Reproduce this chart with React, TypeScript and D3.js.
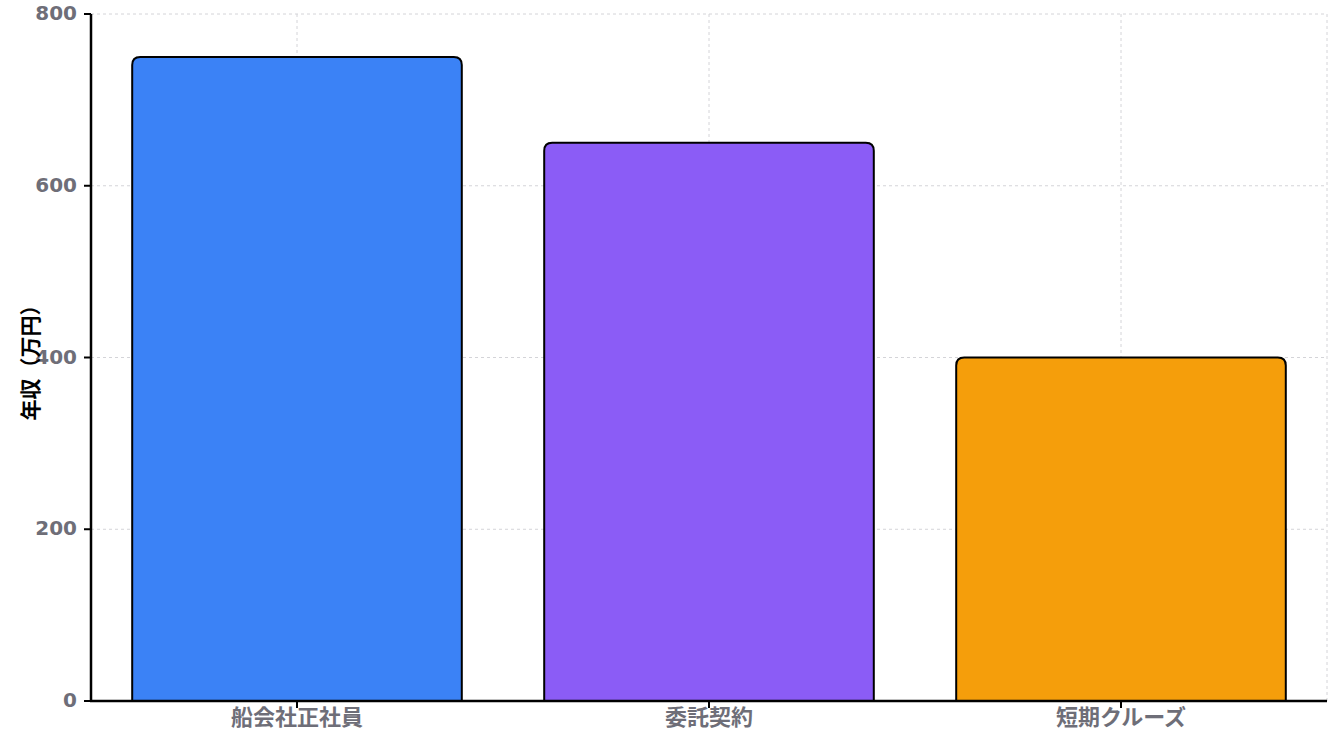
import React from "react";
import * as d3 from "d3";

const categories = ["船会社正社員", "委託契約", "短期クルーズ"];
const values = [750, 650, 400];
const colors = ["#3b82f6", "#8b5cf6", "#f59e0b"];
const yTicks = [0, 200, 400, 600, 800];
const yLabel = "年収（万円）";

const W = 1344;
const H = 733;
const left = 91;
const right = 1327;
const top = 14;
const bottom = 701;

function topRoundedRect(x: number, y: number, w: number, h: number, r: number) {
  const rr = Math.min(r, w / 2, h);
  return `M${x},${y + h}L${x},${y + rr}Q${x},${y} ${x + rr},${y}L${x + w - rr},${y}Q${x + w},${y} ${x + w},${y + rr}L${x + w},${y + h}Z`;
}

export default function App() {
  const x = d3.scaleBand<string>().domain(categories).range([left, right]).paddingInner(0.2).paddingOuter(0.1);
  const y = d3.scaleLinear().domain([0, 800]).range([bottom, top]);
  const centers = categories.map((c) => (x(c) as number) + x.bandwidth() / 2);
  const tickColor = "#6e6e78";
  const font = "'DejaVu Sans', 'Noto Sans CJK JP', sans-serif";
  return (
    <svg width={W} height={H} style={{ position: "absolute", left: 0, top: 0 }}>
      <rect x={0} y={0} width={W} height={H} fill="#fff" />
      <g stroke="#d4d4d8" strokeDasharray="3 3" strokeWidth={1}>
        {yTicks.filter((t) => t > 0).map((t) => (
          <line key={t} x1={left} x2={right} y1={y(t)} y2={y(t)} />
        ))}
        {centers.map((c, i) => (
          <line key={i} x1={c} x2={c} y1={top} y2={bottom} />
        ))}
        <line x1={right} x2={right} y1={top} y2={bottom} />
      </g>
      {categories.map((c, i) => (
        <path
          key={c}
          d={topRoundedRect(x(c) as number, y(values[i]), x.bandwidth(), bottom - y(values[i]), 8)}
          fill={colors[i]}
          stroke="#000"
          strokeWidth={2}
        />
      ))}
      <line x1={left} x2={left} y1={top} y2={bottom + 1} stroke="#000" strokeWidth={2.5} />
      <line x1={left - 1} x2={right} y1={bottom} y2={bottom} stroke="#000" strokeWidth={2.5} />
      {yTicks.map((t) => (
        <g key={t}>
          <line x1={left - 7} x2={left} y1={y(t)} y2={y(t)} stroke="#000" strokeWidth={2} />
          <text
            x={left - 14}
            y={y(t)}
            dy="0.3em"
            textAnchor="end"
            fontFamily={font}
            fontWeight="bold"
            fontSize={20}
            fill={tickColor}
          >
            {t}
          </text>
        </g>
      ))}
      {categories.map((c, i) => (
        <g key={c}>
          <line x1={centers[i]} x2={centers[i]} y1={bottom} y2={bottom + 7} stroke="#000" strokeWidth={2} />
          <text
            x={centers[i]}
            y={725}
            textAnchor="middle"
            fontFamily="'Noto Sans CJK JP', sans-serif"
            fontWeight="bold"
            fontSize={22}
            fill={tickColor}
          >
            {c}
          </text>
        </g>
      ))}
      <text
        transform={`translate(38,${(top + bottom) / 2}) rotate(-90)`}
        textAnchor="middle"
        fontFamily="'Noto Sans CJK JP', sans-serif"
        fontWeight="bold"
        fontSize={21}
        fill="#000"
      >
        {yLabel}
      </text>
    </svg>
  );
}
